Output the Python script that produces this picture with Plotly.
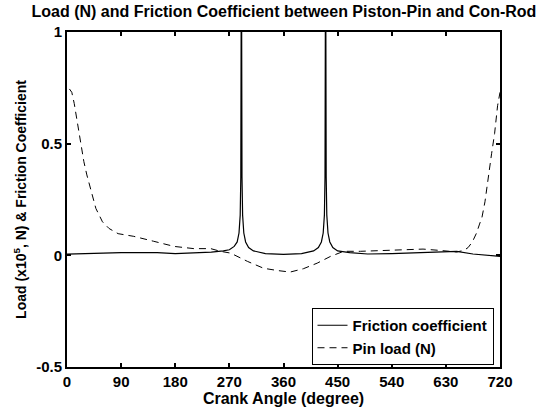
import plotly.graph_objects as go

# Friction coefficient (solid)
fric_angle = [0, 30, 60, 90, 120, 150, 180, 210, 240, 260, 270, 278, 283, 286, 288, 289, 290,
              291, 292, 294, 297, 302, 310, 330, 360, 390, 410, 418, 423, 426, 428, 429, 430,
              431, 432, 434, 437, 442, 450, 470, 500, 540, 580, 620, 648, 675, 700, 720]
fric_value = [0.005, 0.008, 0.012, 0.012, 0.012, 0.012, 0.008, 0.01, 0.014, 0.02, 0.025, 0.04, 0.06, 0.1, 0.18, 0.35, 1.5,
              0.35, 0.18, 0.1, 0.06, 0.035, 0.02, 0.008, 0.004, 0.008, 0.02, 0.035, 0.06, 0.1, 0.18, 0.35, 1.5,
              0.35, 0.18, 0.1, 0.06, 0.035, 0.02, 0.012, 0.006, 0.008, 0.012, 0.016, 0.018, 0.006, 0.0, -0.005]

# Pin load (dashed), x1e5 N
load_angle = [4, 8, 12, 16, 20, 24, 28, 33, 40, 48, 59, 70, 85, 111, 144, 178, 211, 239, 255, 272, 300, 327,
              350, 371, 393, 416, 438, 460, 488, 521, 554, 592, 620, 648, 660, 667, 674, 681, 686, 690, 695,
              700, 706, 711, 716, 720]
load_value = [0.745, 0.73, 0.68, 0.61, 0.54, 0.47, 0.42, 0.36, 0.29, 0.21, 0.15, 0.12, 0.097, 0.085, 0.063, 0.04, 0.03, 0.03, 0.018, 0.01, -0.027, -0.058,
              -0.068, -0.075, -0.06, -0.035, -0.005, 0.018, 0.018, 0.022, 0.024, 0.028, 0.022, 0.015, 0.022, 0.035, 0.06, 0.10, 0.14, 0.17, 0.24,
              0.35, 0.455, 0.545, 0.67, 0.73]

x_ticks = [0, 90, 180, 270, 360, 450, 540, 630, 720]
y_ticks = [-0.5, 0, 0.5, 1]

FONT = "Liberation Sans"

fig = go.Figure()
fig.add_trace(go.Scatter(x=fric_angle, y=fric_value, mode="lines", name="Friction coefficient",
                         line=dict(color="black", width=1.2)))
fig.add_trace(go.Scatter(x=load_angle, y=load_value, mode="lines", name="Pin load (N)",
                         line=dict(color="black", width=1, dash="7px,5px")))

axis_common = dict(showline=True, linecolor="black", linewidth=2, mirror="ticks",
                   ticks="inside", ticklen=4, tickwidth=1.5, tickcolor="black",
                   showgrid=False, zeroline=False,
                   tickfont=dict(family=FONT, size=15, color="black", weight="bold"))

fig.update_xaxes(range=[0, 720], tickvals=x_ticks, ticktext=[str(v) for v in x_ticks],
                 title=dict(text="Crank Angle (degree)", standoff=0,
                            font=dict(family=FONT, size=16, color="black", weight="bold")),
                 **axis_common)
fig.update_yaxes(range=[-0.5, 1], tickvals=y_ticks, ticktext=["-0.5", "0", "0.5", "1"],
                 title=dict(text="Load (x10<sup>5</sup>, N) & Friction Coefficient", standoff=6,
                            font=dict(family=FONT, size=14, color="black", weight="bold")),
                 **axis_common)

fig.update_layout(
    width=546, height=417,
    margin=dict(l=67, r=46, t=32, b=50),
    paper_bgcolor="white", plot_bgcolor="white",
    title=dict(text="Load (N) and Friction Coefficient between Piston-Pin and Con-Rod",
               x=0.52, xanchor="center", y=0.972, yanchor="middle",
               font=dict(family=FONT, size=16, color="black", weight="bold")),
    legend=dict(x=0.985, y=0.006, xanchor="right", yanchor="bottom",
                bgcolor="white", bordercolor="black", borderwidth=1,
                font=dict(family=FONT, size=15, color="black", weight="bold"),
                tracegroupgap=0, itemwidth=30),
    showlegend=True,
)

fig.write_html("out.html")
